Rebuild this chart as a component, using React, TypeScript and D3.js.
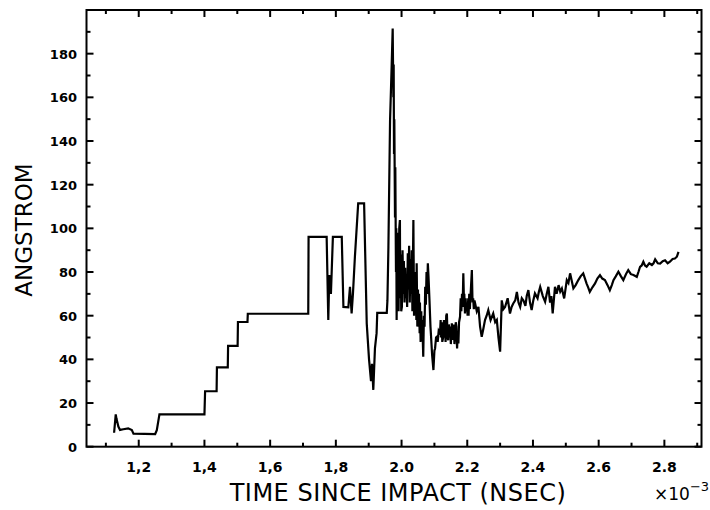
import React from "react";
import * as d3 from "d3";

// time since impact (x 10^-3 ns)
const times: number[] = [
  1.125, 1.130, 1.132, 1.138, 1.143, 1.153, 1.168, 1.179, 1.184, 1.250,
  1.255, 1.263, 1.400, 1.402, 1.437, 1.438, 1.471, 1.472, 1.501, 1.502,
  1.531, 1.532, 1.716, 1.717, 1.772, 1.777, 1.780, 1.785, 1.791, 1.818,
  1.823, 1.838, 1.843, 1.848, 1.852, 1.858, 1.868, 1.886, 1.894, 1.901,
  1.907, 1.910, 1.914, 1.919, 1.924, 1.926, 1.955, 1.957, 1.960, 1.965,
  1.970, 1.973, 1.975, 1.976, 1.977, 1.978, 1.980, 1.981, 1.983, 1.984,
  1.985, 1.987, 1.988, 1.989, 1.991, 1.993, 1.995, 1.996, 1.998, 1.999,
  2.001, 2.003, 2.005, 2.007, 2.009, 2.011, 2.013, 2.015, 2.017, 2.019,
  2.021, 2.023, 2.025, 2.027, 2.029, 2.031, 2.033, 2.036, 2.038, 2.039,
  2.041, 2.043, 2.045, 2.046, 2.048, 2.050, 2.051, 2.053, 2.055, 2.056,
  2.058, 2.060, 2.061, 2.063, 2.066, 2.068, 2.070, 2.072, 2.074, 2.076,
  2.078, 2.080, 2.082, 2.085, 2.088, 2.090, 2.093, 2.097, 2.100, 2.102,
  2.105, 2.107, 2.110, 2.113, 2.117, 2.119, 2.120, 2.122, 2.124, 2.127,
  2.129, 2.130, 2.132, 2.134, 2.136, 2.138, 2.140, 2.142, 2.144, 2.146,
  2.148, 2.150, 2.153, 2.155, 2.157, 2.159, 2.161, 2.163, 2.165, 2.167,
  2.169, 2.171, 2.173, 2.175, 2.178, 2.180, 2.182, 2.184, 2.186, 2.188,
  2.190, 2.191, 2.193, 2.195, 2.197, 2.199, 2.201, 2.203, 2.204, 2.206,
  2.208, 2.209, 2.211, 2.214, 2.216, 2.218, 2.220, 2.222, 2.224, 2.229,
  2.234, 2.239, 2.244, 2.249, 2.254, 2.259, 2.264, 2.271, 2.279, 2.285,
  2.290, 2.295, 2.300, 2.305, 2.310, 2.315, 2.323, 2.330, 2.335, 2.340,
  2.346, 2.351, 2.356, 2.361, 2.366, 2.371, 2.377, 2.381, 2.386, 2.391,
  2.396, 2.401, 2.406, 2.414, 2.418, 2.422, 2.430, 2.437, 2.442, 2.447,
  2.452, 2.456, 2.460, 2.467, 2.472, 2.478, 2.483, 2.488, 2.495, 2.503,
  2.508, 2.513, 2.518, 2.523, 2.530, 2.538, 2.545, 2.553, 2.563, 2.568,
  2.573, 2.581, 2.589, 2.596, 2.604, 2.611, 2.619, 2.627, 2.634, 2.640,
  2.645, 2.652, 2.660, 2.668, 2.675, 2.683, 2.690, 2.698, 2.706, 2.716,
  2.721, 2.726, 2.731, 2.736, 2.741, 2.746, 2.754, 2.762, 2.767, 2.772,
  2.780, 2.787, 2.795, 2.802, 2.810, 2.817, 2.825, 2.832, 2.838, 2.843,
];

// size (angstrom)
const angstrom: number[] = [
  6.4, 14.8, 13.0, 9.2, 7.7, 8.0, 8.4, 7.6, 6.0, 5.8,
  7.6, 14.8, 14.8, 25.4, 25.4, 36.3, 36.3, 46.2, 46.2, 57.1,
  57.1, 60.9, 60.9, 96.1, 96.1, 58.0, 78.6, 70.0, 96.1, 96.1,
  64.0, 63.8, 73.2, 61.0, 70.0, 87.0, 111.4, 111.4, 56.5, 40.0,
  30.0, 38.0, 26.0, 45.0, 52.0, 61.3, 61.3, 67.0, 91.5, 149.5,
  175.0, 191.5, 160.0, 175.0, 134.0, 150.0, 105.0, 128.0, 80.0, 100.0,
  58.0, 98.0, 70.0, 95.0, 62.0, 100.0, 103.8, 68.0, 88.0, 62.0,
  64.0, 90.0, 70.0, 85.0, 66.0, 82.0, 68.0, 76.0, 64.0, 88.6,
  72.0, 92.0, 66.0, 86.0, 70.0, 90.0, 62.0, 103.8, 60.0, 78.0,
  62.5, 80.0, 58.0, 84.0, 55.0, 72.0, 58.0, 70.0, 52.0, 66.0,
  48.0, 62.0, 50.0, 58.0, 41.2, 60.0, 55.0, 73.2, 65.0, 80.0,
  70.0, 84.0, 78.0, 67.0, 55.0, 50.0, 42.0, 35.1, 44.0, 45.0,
  50.0, 50.3, 48.0, 53.0, 51.9, 58.0, 50.0, 57.0, 48.0, 50.3,
  58.0, 50.0, 56.0, 48.0, 60.0, 61.0, 50.0, 48.8, 56.0, 50.0,
  55.0, 47.0, 56.5, 50.0, 49.0, 56.0, 47.0, 51.9, 57.0, 55.0,
  45.0, 52.0, 47.3, 57.0, 59.5, 68.0, 62.0, 70.0, 64.0, 79.4,
  66.0, 70.0, 61.0, 68.0, 62.0, 66.0, 60.0, 68.0, 60.0, 70.0,
  63.0, 67.0, 72.0, 80.9, 66.0, 68.0, 63.0, 67.0, 65.6, 62.0,
  64.0, 55.0, 50.3, 54.0, 58.0, 60.0, 62.6, 58.0, 61.0, 57.0,
  58.0, 50.0, 43.5, 67.0, 63.0, 64.0, 68.0, 61.0, 64.0, 65.6,
  67.0, 70.9, 66.0, 64.0, 68.0, 67.0, 64.5, 69.0, 71.7, 66.0,
  62.6, 67.0, 70.2, 68.0, 71.0, 73.2, 69.0, 66.4, 70.0, 73.2,
  66.0, 69.0, 61.0, 73.2, 70.0, 74.0, 71.0, 72.5, 67.9, 76.3,
  75.0, 79.4, 76.0, 72.5, 74.0, 76.3, 78.0, 79.4, 74.8, 73.0,
  70.9, 73.0, 74.8, 77.0, 78.6, 77.0, 76.3, 74.0, 71.7, 74.0,
  76.3, 78.0, 80.1, 78.0, 76.3, 79.0, 80.9, 79.0, 78.6, 77.8,
  80.0, 82.4, 83.0, 84.7, 83.0, 82.4, 84.0, 83.2, 84.0, 85.8,
  84.0, 83.9, 85.0, 85.4, 84.0, 84.7, 86.0, 86.2, 87.0, 89.2,
];

const xMajorTicks: number[] = [1.2, 1.4, 1.6, 1.8, 2.0, 2.2, 2.4, 2.6, 2.8];
const xTickLabels: string[] = ["1,2", "1,4", "1,6", "1,8", "2.0", "2.2", "2.4", "2.6", "2.8"];
const xMinorTicks: number[] = [1.1, 1.3, 1.5, 1.7, 1.9, 2.1, 2.3, 2.5, 2.7, 2.9];
const yMajorTicks: number[] = [0, 20, 40, 60, 80, 100, 120, 140, 160, 180];
const yMinorTicks: number[] = [10, 30, 50, 70, 90, 110, 130, 150, 170, 190];

const W = 710;
const H = 510;
const left = 86.5;
const right = 701.5;
const top = 10;
const bottom = 446.7;

export default function App() {
  const x = d3.scaleLinear().domain([1.041, 2.913]).range([left, right]);
  const y = d3.scaleLinear().domain([0, 200]).range([bottom, top]);

  const pts: [number, number][] = times.map((t, i) => [t, angstrom[i]]);
  const line = d3
    .line<[number, number]>()
    .x((d) => x(d[0]))
    .y((d) => y(d[1]));

  const majorLen = 7;
  const minorLen = 4;
  const font = "'DejaVu Sans', sans-serif";

  return (
    <svg
      width={W}
      height={H}
      style={{ position: "absolute", left: 0, top: 0, background: "#fff" }}
    >
      <rect x={0} y={0} width={W} height={H} fill="#fff" />
      {/* frame */}
      <rect
        x={left}
        y={top}
        width={right - left}
        height={bottom - top}
        fill="none"
        stroke="#000"
        strokeWidth={2}
      />
      {/* x ticks bottom & top */}
      {xMajorTicks.map((t) => (
        <g key={"xm" + t}>
          <line x1={x(t)} x2={x(t)} y1={bottom} y2={bottom - majorLen} stroke="#000" strokeWidth={2} />
          <line x1={x(t)} x2={x(t)} y1={top} y2={top + majorLen} stroke="#000" strokeWidth={2} />
        </g>
      ))}
      {xMinorTicks.map((t) => (
        <g key={"xn" + t}>
          <line x1={x(t)} x2={x(t)} y1={bottom} y2={bottom - minorLen} stroke="#000" strokeWidth={2} />
          <line x1={x(t)} x2={x(t)} y1={top} y2={top + minorLen} stroke="#000" strokeWidth={2} />
        </g>
      ))}
      {/* y ticks left & right */}
      {yMajorTicks.map((v) => (
        <g key={"ym" + v}>
          <line x1={left} x2={left + majorLen} y1={y(v)} y2={y(v)} stroke="#000" strokeWidth={2} />
          <line x1={right} x2={right - majorLen} y1={y(v)} y2={y(v)} stroke="#000" strokeWidth={2} />
        </g>
      ))}
      {yMinorTicks.map((v) => (
        <g key={"yn" + v}>
          <line x1={left} x2={left + minorLen} y1={y(v)} y2={y(v)} stroke="#000" strokeWidth={2} />
          <line x1={right} x2={right - minorLen} y1={y(v)} y2={y(v)} stroke="#000" strokeWidth={2} />
        </g>
      ))}
      {/* x tick labels */}
      {xMajorTicks.map((t, i) => (
        <text
          key={"xl" + t}
          x={x(t)}
          y={472}
          textAnchor="middle"
          fontFamily={font}
          fontWeight="bold"
          fontSize={14}
          fill="#000"
        >
          {xTickLabels[i]}
        </text>
      ))}
      {/* y tick labels */}
      {yMajorTicks.map((v) => (
        <text
          key={"yl" + v}
          x={77}
          y={y(v) + 5}
          textAnchor="end"
          fontFamily={font}
          fontWeight="bold"
          fontSize={13}
          fill="#000"
        >
          {v}
        </text>
      ))}
      {/* data line */}
      <path
        d={line(pts) || ""}
        fill="none"
        stroke="#000"
        strokeWidth={2.2}
        strokeLinejoin="miter"
      />
      {/* axis titles */}
      <text
        transform="translate(31.5,230) rotate(-90)"
        textAnchor="middle"
        fontFamily={font}
        fontSize={23}
        fill="#000"
      >
        ANGSTROM
      </text>
      <text
        x={398}
        y={501}
        textAnchor="middle"
        fontFamily={font}
        fontSize={24}
        letterSpacing={0.5}
        fill="#000"
      >
        TIME SINCE IMPACT (NSEC)
      </text>
      <text x={654} y={500} fontFamily={font} fontSize={17} fill="#000">
        ×10
        <tspan dy={-9} fontSize={13}>
          −3
        </tspan>
      </text>
    </svg>
  );
}
